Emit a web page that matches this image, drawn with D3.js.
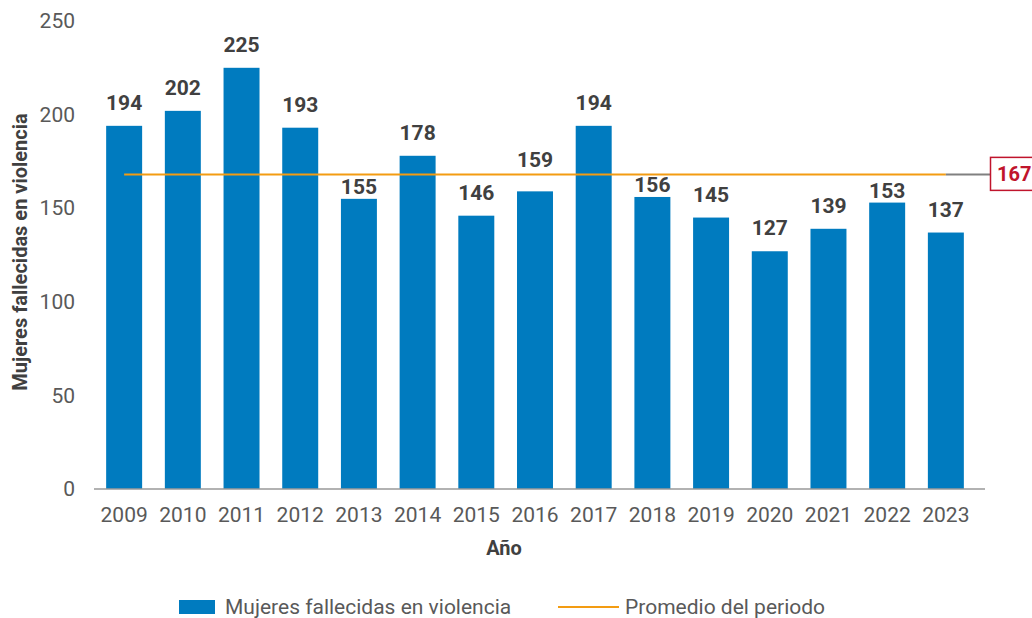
<!DOCTYPE html>
<html>
<head>
<meta charset="utf-8">
<script src="https://cdn.jsdelivr.net/npm/d3@7"></script>
<style>
  body { margin: 0; background: #fff; }
  text { font-family: Roboto, "Noto Sans", sans-serif; }
</style>
</head>
<body>
<div id="chart"></div>
<script>
// data
var years = ["2009", "2010", "2011", "2012", "2013", "2014", "2015", "2016",
  "2017", "2018", "2019", "2020", "2021", "2022", "2023"];
var fallecidas = [194, 202, 225, 193, 155, 178, 146, 159, 194, 156, 145, 127, 139, 153, 137];
var promedio = 167;
var yTicks = [0, 50, 100, 150, 200, 250];

var width = 1032, height = 618;

var svg = d3.select("#chart").append("svg")
  .attr("width", width)
  .attr("height", height);

// scales
var x = d3.scaleBand()
  .domain(years)
  .range([95, 975])
  .paddingInner(0.387)
  .paddingOuter(0.19);

var y = d3.scaleLinear()
  .domain([0, 250])
  .range([489, 21]);

// y tick labels (no axis line)
var yAxis = svg.append("g")
  .attr("transform", "translate(77,0)")
  .call(d3.axisLeft(y).tickValues(yTicks).tickSize(0).tickPadding(2));
yAxis.select(".domain").remove();
yAxis.selectAll("text")
  .style("font-family", "Roboto")
  .style("font-size", "21px")
  .attr("fill", "#595959");

// bars
svg.selectAll(".bar")
  .data(fallecidas)
  .enter().append("rect")
  .attr("class", "bar")
  .attr("x", function (d, i) { return x(years[i]); })
  .attr("width", x.bandwidth())
  .attr("y", function (d) { return y(d); })
  .attr("height", function (d) { return y(0) - y(d); })
  .attr("fill", "#007bbf");

var lineY = y(promedio) - 2;

// value labels, nudged so they don't sit on the average line
function overlaps(base) {
  return base - 16 < lineY + 1 && base + 2 > lineY - 1;
}
function labelY(d) {
  var b = y(d) - 16;
  if (!overlaps(b)) return b;
  b = y(d) - 5;
  if (!overlaps(b)) return b;
  return lineY - 7;
}

svg.selectAll(".val")
  .data(fallecidas)
  .enter().append("text")
  .attr("class", "val")
  .attr("x", function (d, i) { return x(years[i]) + x.bandwidth() / 2; })
  .attr("y", labelY)
  .attr("text-anchor", "middle")
  .style("font-size", "21px")
  .style("font-weight", "bold")
  .attr("fill", "#404040")
  .text(function (d) { return d; });

// x axis
var xAxis = svg.append("g")
  .attr("transform", "translate(0,489)")
  .call(d3.axisBottom(x).tickSize(0).tickPadding(18));
xAxis.select(".domain").remove();
xAxis.selectAll("text")
  .style("font-family", "Roboto")
  .style("font-size", "21px")
  .attr("fill", "#595959");

svg.append("line")
  .attr("x1", 94).attr("x2", 985)
  .attr("y1", 489).attr("y2", 489)
  .attr("stroke", "#999")
  .attr("stroke-width", 1.5);

// average line
var xFirst = x(years[0]) + x.bandwidth() / 2;
var xLast = x(years[years.length - 1]) + x.bandwidth() / 2;
svg.append("line")
  .attr("x1", xFirst).attr("x2", xLast)
  .attr("y1", lineY).attr("y2", lineY)
  .attr("stroke", "#f39c12")
  .attr("stroke-width", 2);

svg.append("line")
  .attr("x1", xLast).attr("x2", 990)
  .attr("y1", lineY).attr("y2", lineY)
  .attr("stroke", "#808080")
  .attr("stroke-width", 2);

svg.append("rect")
  .attr("x", 990.5).attr("y", lineY - 17)
  .attr("width", 60).attr("height", 33)
  .attr("fill", "#fff")
  .attr("stroke", "#c0142c")
  .attr("stroke-width", 1.5);

svg.append("text")
  .attr("x", 997).attr("y", lineY + 7)
  .style("font-size", "20px")
  .style("font-weight", "bold")
  .attr("fill", "#c0142c")
  .text(promedio);

// axis titles
svg.append("text")
  .attr("x", 504).attr("y", 555)
  .attr("text-anchor", "middle")
  .style("font-size", "20px")
  .style("font-weight", "bold")
  .attr("fill", "#404040")
  .text("Año");

svg.append("text")
  .attr("transform", "translate(27,252) rotate(-90)")
  .attr("text-anchor", "middle")
  .style("font-size", "20px")
  .style("font-weight", "bold")
  .attr("fill", "#404040")
  .text("Mujeres fallecidas en violencia");

// legend
var legend = svg.append("g");
legend.append("rect")
  .attr("x", 179).attr("y", 600)
  .attr("width", 36).attr("height", 14)
  .attr("fill", "#007bbf");
legend.append("text")
  .attr("x", 225).attr("y", 614)
  .style("font-size", "21px")
  .attr("fill", "#595959")
  .text("Mujeres fallecidas en violencia");
legend.append("line")
  .attr("x1", 558).attr("x2", 619)
  .attr("y1", 607).attr("y2", 607)
  .attr("stroke", "#f39c12")
  .attr("stroke-width", 2);
legend.append("text")
  .attr("x", 625).attr("y", 614)
  .style("font-size", "21px")
  .attr("fill", "#595959")
  .text("Promedio del periodo");
</script>
</body>
</html>
